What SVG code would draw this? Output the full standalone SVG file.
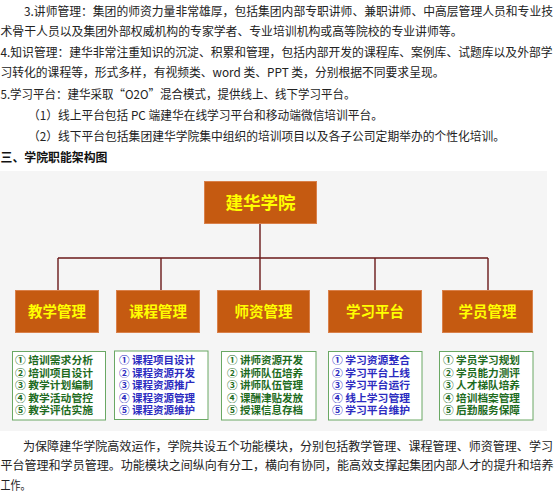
<svg xmlns="http://www.w3.org/2000/svg" width="554" height="499" viewBox="0 0 554 499">
<style>
.p{font-family:"Noto Sans CJK SC","Noto Sans",sans-serif;font-size:12px;fill:#222}
.h{font-family:"Noto Sans CJK SC",sans-serif;font-size:12px;font-weight:bold;fill:#111}
.ob{fill:#c55a11;stroke:#d9804a;stroke-width:1}
.ot{font-family:"Noto Sans CJK SC",sans-serif;font-weight:bold;fill:#ffff00;text-anchor:middle}
.lb{fill:#fff;stroke:#6aa864;stroke-width:1}
.lg{font-family:"Noto Sans CJK SC",sans-serif;font-size:10.5px;font-weight:bold;fill:#1e6b1e}
.lbl{font-family:"Noto Sans CJK SC",sans-serif;font-size:10.5px;font-weight:bold;fill:#2b2bc0}
.c{stroke:#6b1a1a;stroke-width:1.4;fill:none}
</style>
<rect width="554" height="499" fill="#fff"/>
<g id="text-top">
<text class="p" x="24" y="16" textLength="529" lengthAdjust="spacingAndGlyphs">3.讲师管理：集团的师资力量非常雄厚，包括集团内部专职讲师、兼职讲师、中高层管理人员和专业技</text>
<text class="p" x="0.5" y="36" textLength="462" lengthAdjust="spacingAndGlyphs">术骨干人员以及集团外部权威机构的专家学者、专业培训机构或高等院校的专业讲师等。</text>
<text class="p" x="0.5" y="56.5" textLength="552" lengthAdjust="spacingAndGlyphs">4.知识管理：建华非常注重知识的沉淀、积累和管理，包括内部开发的课程库、案例库、试题库以及外部学</text>
<text class="p" x="0.5" y="76.5" textLength="444" lengthAdjust="spacingAndGlyphs">习转化的课程等，形式多样，有视频类、word 类、PPT 类，分别根据不同要求呈现。</text>
<text class="p" x="0.5" y="98.5" textLength="355" lengthAdjust="spacingAndGlyphs">5.学习平台：建华采取“O2O”混合模式，提供线上、线下学习平台。</text>
<text class="p" x="28" y="119.5" textLength="355" lengthAdjust="spacingAndGlyphs">（1）线上平台包括 PC 端建华在线学习平台和移动端微信培训平台。</text>
<text class="p" x="28" y="140.5" textLength="477" lengthAdjust="spacingAndGlyphs">（2）线下平台包括集团建华学院集中组织的培训项目以及各子公司定期举办的个性化培训。</text>
<text class="h" x="0.5" y="161.5" textLength="107" lengthAdjust="spacingAndGlyphs">三、学院职能架构图</text>
</g>
<rect id="panel" x="0" y="171" width="547" height="260" fill="#f5f5f5"/>
<g id="connectors">
<path class="c" d="M260 224V290M58 258H488M58 258V290M161 258V290M375 258V290M488 258V290"/>
</g>
<g id="root"><rect class="ob" x="204.5" y="181.5" width="112" height="42"/><text class="ot" x="260.5" y="208.5" font-size="17.5">建华学院</text></g>
<g id="n1"><rect class="ob" x="15.5" y="290.5" width="83" height="42"/><text class="ot" x="57" y="316.5" font-size="14.5">教学管理</text></g>
<g id="n2"><rect class="ob" x="116.5" y="290.5" width="83" height="42"/><text class="ot" x="158" y="316.5" font-size="14.5">课程管理</text></g>
<g id="n3"><rect class="ob" x="217.5" y="290.5" width="92" height="42"/><text class="ot" x="263.5" y="316.5" font-size="14.5">师资管理</text></g>
<g id="n4"><rect class="ob" x="328.5" y="290.5" width="93" height="42"/><text class="ot" x="375" y="316.5" font-size="14.5">学习平台</text></g>
<g id="n5"><rect class="ob" x="442.5" y="290.5" width="90" height="42"/><text class="ot" x="487.5" y="316.5" font-size="14.5">学员管理</text></g>
<g id="l1"><rect class="lb" x="12.5" y="351.5" width="93" height="68.5"/>
<text class="lg" x="15" y="364" textLength="78" lengthAdjust="spacingAndGlyphs">① 培训需求分析</text>
<text class="lg" x="15" y="376.5" textLength="78" lengthAdjust="spacingAndGlyphs">② 培训项目设计</text>
<text class="lg" x="15" y="389" textLength="78" lengthAdjust="spacingAndGlyphs">③ 教学计划编制</text>
<text class="lg" x="15" y="401.5" textLength="78" lengthAdjust="spacingAndGlyphs">④ 教学活动管控</text>
<text class="lg" x="15" y="414" textLength="78" lengthAdjust="spacingAndGlyphs">⑤ 教学评估实施</text></g>
<g id="l2"><rect class="lb" x="114.5" y="351" width="93.5" height="68.5"/>
<text class="lbl" x="119" y="364" textLength="76" lengthAdjust="spacingAndGlyphs">① 课程项目设计</text>
<text class="lbl" x="119" y="376.5" textLength="76" lengthAdjust="spacingAndGlyphs">② 课程资源开发</text>
<text class="lbl" x="119" y="389" textLength="76" lengthAdjust="spacingAndGlyphs">③ 课程资源推广</text>
<text class="lbl" x="119" y="401.5" textLength="76" lengthAdjust="spacingAndGlyphs">④ 课程资源管理</text>
<text class="lbl" x="119" y="414" textLength="76" lengthAdjust="spacingAndGlyphs">⑤ 课程资源维护</text></g>
<g id="l3"><rect class="lb" x="221.5" y="351.5" width="94.5" height="68.5"/>
<text class="lg" x="227" y="364" textLength="76" lengthAdjust="spacingAndGlyphs">① 讲师资源开发</text>
<text class="lg" x="227" y="376.5" textLength="76" lengthAdjust="spacingAndGlyphs">② 讲师队伍培养</text>
<text class="lg" x="227" y="389" textLength="76" lengthAdjust="spacingAndGlyphs">③ 讲师队伍管理</text>
<text class="lg" x="227" y="401.5" textLength="76" lengthAdjust="spacingAndGlyphs">④ 课酬津贴发放</text>
<text class="lg" x="227" y="414" textLength="76" lengthAdjust="spacingAndGlyphs">⑤ 授课信息存档</text></g>
<g id="l4"><rect class="lb" x="328.5" y="351.5" width="93.5" height="68.5"/>
<text class="lbl" x="332" y="364" textLength="78" lengthAdjust="spacingAndGlyphs">① 学习资源整合</text>
<text class="lbl" x="332" y="376.5" textLength="78" lengthAdjust="spacingAndGlyphs">② 学习平台上线</text>
<text class="lbl" x="332" y="389" textLength="78" lengthAdjust="spacingAndGlyphs">③ 学习平台运行</text>
<text class="lbl" x="332" y="401.5" textLength="78" lengthAdjust="spacingAndGlyphs">④ 线上学习管理</text>
<text class="lbl" x="332" y="414" textLength="78" lengthAdjust="spacingAndGlyphs">⑤ 学习平台维护</text></g>
<g id="l5"><rect class="lb" x="439.5" y="351.5" width="93.5" height="68.5"/>
<text class="lg" x="443" y="364" textLength="77" lengthAdjust="spacingAndGlyphs">① 学员学习规划</text>
<text class="lg" x="443" y="376.5" textLength="77" lengthAdjust="spacingAndGlyphs">② 学员能力测评</text>
<text class="lg" x="443" y="389" textLength="77" lengthAdjust="spacingAndGlyphs">③ 人才梯队培养</text>
<text class="lg" x="443" y="401.5" textLength="77" lengthAdjust="spacingAndGlyphs">④ 培训档案管理</text>
<text class="lg" x="443" y="414" textLength="77" lengthAdjust="spacingAndGlyphs">⑤ 后勤服务保障</text></g>
<g id="text-bottom">
<text class="p" x="23" y="450.5" textLength="530" lengthAdjust="spacingAndGlyphs">为保障建华学院高效运作，学院共设五个功能模块，分别包括教学管理、课程管理、师资管理、学习</text>
<text class="p" x="0.5" y="470" textLength="553" lengthAdjust="spacingAndGlyphs">平台管理和学员管理。功能模块之间纵向有分工，横向有协同，能高效支撑起集团内部人才的提升和培养</text>
<text class="p" x="0.5" y="490" textLength="30" lengthAdjust="spacingAndGlyphs">工作。</text>
</g>
</svg>
